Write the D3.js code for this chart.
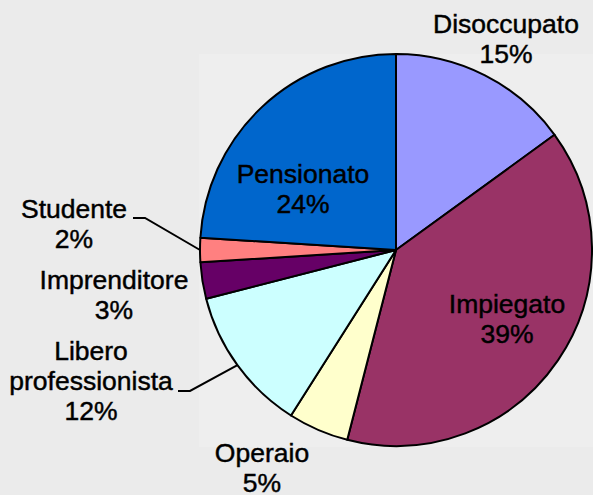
<!DOCTYPE html>
<html><head><meta charset="utf-8">
<script src="https://cdn.jsdelivr.net/npm/d3@7"></script>
<style>
html,body{margin:0;padding:0;background:#ebebeb;}
svg{display:block;}
text{font-family:"Liberation Sans",Arial,sans-serif;font-size:26.5px;fill:#000;stroke:#000;stroke-width:0.45px;}
</style></head>
<body>
<svg id="c" width="593" height="495"></svg>
<script>
const categories = ["Disoccupato","Impiegato","Operaio","Libero professionista","Imprenditore","Studente","Pensionato"];
const values = [15,39,5,12,3,2,24];
const colors = ["#9999FF","#993366","#FFFFCC","#CCFFFF","#660066","#FF8080","#0066CC"];

// label layout (line texts, center x, first baseline y)
const labelLayout = [
  {lines:["Disoccupato"], x:506, y:33},
  {lines:["Impiegato"], x:507, y:313},
  {lines:["Operaio"], x:262, y:462},
  {lines:["Libero","professionista"], x:91, y:360},
  {lines:["Imprenditore"], x:114, y:289},
  {lines:["Studente"], x:74, y:218},
  {lines:["Pensionato"], x:303, y:183}
];
const leaders = {
  5: [[133,218],[145,218]],
  3: [[178,391],[190,391]]
};

const svg = d3.select("#c");
const cx = 396, cy = 250, r = 196;

svg.append("rect").attr("x",199).attr("y",54).attr("width",394).attr("height",393).attr("fill","#eeeeee");

const pie = d3.pie().sort(null).value(d=>d)(values);
const arc = d3.arc().innerRadius(0).outerRadius(r);
const g = svg.append("g").attr("transform",`translate(${cx},${cy})`);
g.selectAll("path").data(pie).join("path")
  .attr("d",arc)
  .attr("fill",(d,i)=>colors[i])
  .attr("stroke","#000").attr("stroke-width",2).attr("stroke-linejoin","round");

const lh = 30;
const total = d3.sum(values);
labelLayout.forEach((L,i)=>{
  const lines = L.lines.concat([Math.round(values[i]/total*100)+"%"]);
  const t = svg.append("text").attr("text-anchor","middle");
  lines.forEach((s,k)=>{
    t.append("tspan").attr("x",L.x).attr("y",L.y+k*lh).text(s);
  });
  if(leaders[i]){
    const d = pie[i];
    const mid = (d.startAngle+d.endAngle)/2;
    const p = [cx + r*Math.sin(mid), cy - r*Math.cos(mid)];
    const pts = leaders[i].concat([p]);
    svg.append("path").attr("d",d3.line()(pts)).attr("fill","none").attr("stroke","#000").attr("stroke-width",2);
  }
});
</script>
</body></html>
